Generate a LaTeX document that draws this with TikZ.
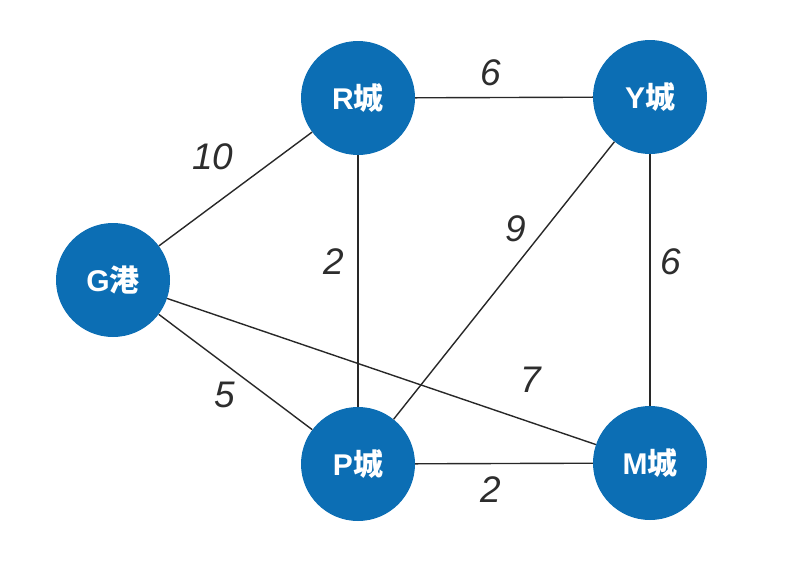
\documentclass[tikz,border=0pt]{standalone}
\usepackage{fontspec}
\setmainfont{Liberation Sans}
\newfontfamily\cjk{Noto Sans CJK SC}
\definecolor{cityblue}{RGB}{12,110,180}
\definecolor{edgegray}{RGB}{40,40,40}
\definecolor{labelgray}{RGB}{45,45,45}
\begin{document}
\begin{tikzpicture}[x=1pt,y=-1pt,
  city/.style={circle, fill=cityblue, minimum size=114pt, inner sep=0pt, text=white,
    font=\fontsize{30}{30}\selectfont\bfseries},
  wt/.style={font=\fontsize{37}{37}\selectfont\itshape, text=labelgray, inner sep=0pt},
  edge/.style={draw=edgegray, line width=1.4pt}]
\useasboundingbox (0,0) rectangle (785,573);
\node[city] (R) at (358,98) {R{\cjk 城}};
\node[city] (Y) at (650,97) {Y{\cjk 城}};
\node[city] (G) at (113,280) {G{\cjk 港}};
\node[city] (P) at (358,464) {P{\cjk 城}};
\node[city] (M) at (650,463) {M{\cjk 城}};
\draw[edge] (R) -- (Y);
\draw[edge] (G) -- (R);
\draw[edge] (R) -- (P);
\draw[edge] (Y) -- (P);
\draw[edge] (Y) -- (M);
\draw[edge] (G) -- (M);
\draw[edge] (G) -- (P);
\draw[edge] (P) -- (M);
\node[wt] (wRY) at (491,73) {6};
\node[wt] (wGR) at (213,157) {10};
\node[wt] (wRP) at (334,262) {2};
\node[wt] (wYP) at (516,229) {9};
\node[wt] (wYM) at (671,262) {6};
\node[wt] (wGM) at (531,380) {7};
\node[wt] (wGP) at (225,395) {5};
\node[wt] (wPM) at (491,490) {2};
\end{tikzpicture}
\end{document}
